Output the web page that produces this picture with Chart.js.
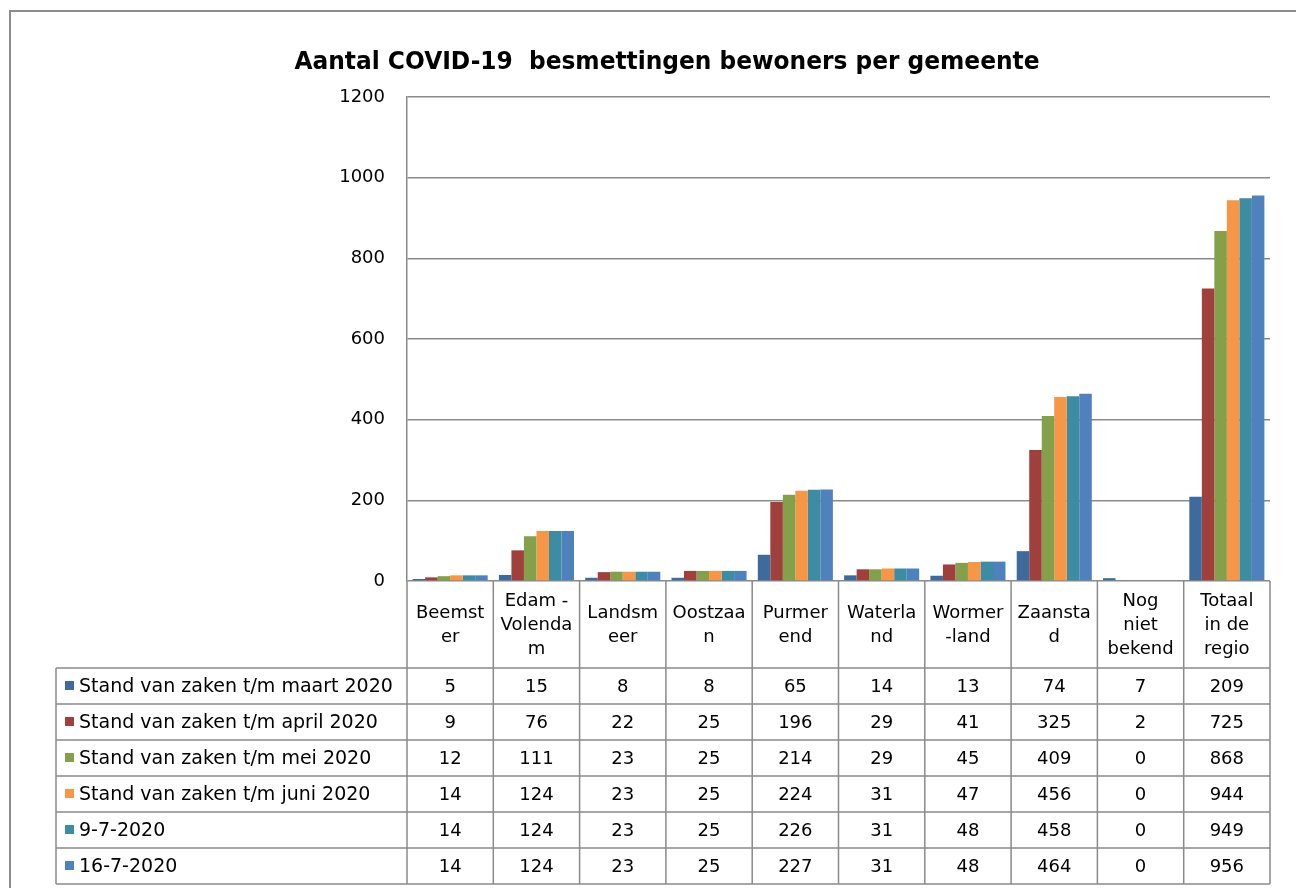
<!DOCTYPE html>
<html>
<head>
<meta charset="utf-8">
<script src="https://cdn.jsdelivr.net/npm/chart.js@4"></script>
<style>
  html, body { margin: 0; padding: 0; background: #fff; }
  #wrap { position: relative; width: 1296px; height: 888px; }
</style>
</head>
<body>
<div id="wrap"><canvas id="chart" width="1296" height="888"></canvas></div>
<script>
const titleText = 'Aantal COVID-19  besmettingen bewoners per gemeente';
const categories = [
  ['Beemst', 'er'], ['Edam -', 'Volenda', 'm'], ['Landsm', 'eer'], ['Oostzaa', 'n'],
  ['Purmer', 'end'], ['Waterla', 'nd'], ['Wormer', '-land'], ['Zaansta', 'd'],
  ['Nog', 'niet', 'bekend'], ['Totaal', 'in de', 'regio']
];
const seriesNames = [
  'Stand van zaken t/m maart 2020',
  'Stand van zaken t/m april 2020',
  'Stand van zaken t/m mei 2020',
  'Stand van zaken t/m juni 2020',
  '9-7-2020',
  '16-7-2020'
];
const maart  = [5, 15, 8, 8, 65, 14, 13, 74, 7, 209];
const april  = [9, 76, 22, 25, 196, 29, 41, 325, 2, 725];
const mei    = [12, 111, 23, 25, 214, 29, 45, 409, 0, 868];
const juni   = [14, 124, 23, 25, 224, 31, 47, 456, 0, 944];
const juli9  = [14, 124, 23, 25, 226, 31, 48, 458, 0, 949];
const juli16 = [14, 124, 23, 25, 227, 31, 48, 464, 0, 956];
const yMax = 1200;
const yStep = 200;

const colors = ['#3e6a9c', '#a0403d', '#84a04b', '#f79646', '#3c8ca4', '#4f81bd'];
const values = [maart, april, mei, juni, juli9, juli16];

const FONT = '"DejaVu Sans", sans-serif';
const lineCol = '#8a8a8a';

// frame + title
const framePlugin = {
  id: 'frame',
  beforeDraw(chart) {
    const ctx = chart.ctx;
    ctx.save();
    ctx.strokeStyle = '#8c8c8c';
    ctx.lineWidth = 2;
    ctx.beginPath();
    ctx.moveTo(10, 888); ctx.lineTo(10, 11); ctx.lineTo(1296, 11);
    ctx.stroke();
    // title, squeezed a bit to the reference width
    ctx.font = 'bold 24px ' + FONT;
    ctx.fillStyle = '#000';
    ctx.textBaseline = 'alphabetic';
    ctx.textAlign = 'center';
    const tw = ctx.measureText(titleText).width;
    const sx = Math.min(1, 745 / tw);
    ctx.translate(667, 69);
    ctx.scale(sx, 1);
    ctx.fillText(titleText, 0, 0);
    ctx.restore();
  }
};

// data table under the plot
const tablePlugin = {
  id: 'table',
  afterDraw(chart) {
    const { ctx, chartArea: ca, scales: { x } } = chart;
    const n = categories.length;
    const w = (ca.right - ca.left) / n;
    const top = ca.bottom;
    const headH = 87, rowH = 36;
    const rowsTop = top + headH;
    const bottom = rowsTop + rowH * seriesNames.length;
    const legLeft = 56;

    ctx.save();
    ctx.strokeStyle = lineCol;
    ctx.lineWidth = 1.5;
    ctx.beginPath();
    for (let i = 0; i <= n; i++) {
      const xx = ca.left + i * w;
      ctx.moveTo(xx, top); ctx.lineTo(xx, bottom);
    }
    ctx.moveTo(legLeft, rowsTop); ctx.lineTo(legLeft, bottom);
    for (let r = 0; r <= seriesNames.length; r++) {
      const yy = rowsTop + r * rowH;
      ctx.moveTo(legLeft, yy); ctx.lineTo(ca.right, yy);
    }
    ctx.stroke();

    ctx.fillStyle = '#000';
    ctx.textAlign = 'center';
    ctx.textBaseline = 'middle';
    ctx.font = '18px ' + FONT;
    const lh = 24;
    categories.forEach((lab, i) => {
      const cx = x.getPixelForValue(i);
      const y0 = top + headH / 2 - (lab.length - 1) * lh / 2;
      lab.forEach((t, k) => ctx.fillText(t, cx, y0 + k * lh + 1));
    });

    ctx.font = '18px ' + FONT;
    values.forEach((arr, r) => {
      const cy = rowsTop + r * rowH + rowH / 2 + 1;
      arr.forEach((v, i) => ctx.fillText(String(v), x.getPixelForValue(i), cy));
    });

    ctx.textAlign = 'left';
    ctx.font = '19px ' + FONT;
    seriesNames.forEach((name, r) => {
      const cy = rowsTop + r * rowH + rowH / 2;
      ctx.fillStyle = colors[r];
      ctx.fillRect(65, cy - 5, 9, 9);
      ctx.fillStyle = '#000';
      ctx.fillText(name, 79, cy + 1);
    });
    ctx.restore();
  }
};

new Chart(document.getElementById('chart'), {
  type: 'bar',
  data: {
    labels: categories,
    datasets: seriesNames.map((name, i) => ({
      label: name,
      data: values[i],
      backgroundColor: colors[i],
      borderWidth: 0,
      categoryPercentage: 0.87,
      barPercentage: 1
    }))
  },
  options: {
    responsive: false,
    animation: false,
    layout: { padding: { left: 327, top: 97, right: 26, bottom: 307 } },
    plugins: { legend: { display: false }, title: { display: false }, tooltip: { enabled: false } },
    scales: {
      x: { display: false },
      y: {
        min: 0,
        max: yMax,
        afterFit: s => { s.width = 80; },
        ticks: {
          stepSize: yStep, color: '#000', padding: 22,
          font: { family: FONT, size: 18 },
          callback: v => String(v)
        },
        grid: { color: lineCol, lineWidth: 1.5, drawTicks: false },
        border: { color: lineCol, width: 1.5 }
      }
    }
  },
  plugins: [framePlugin, tablePlugin]
});
</script>
</body>
</html>
